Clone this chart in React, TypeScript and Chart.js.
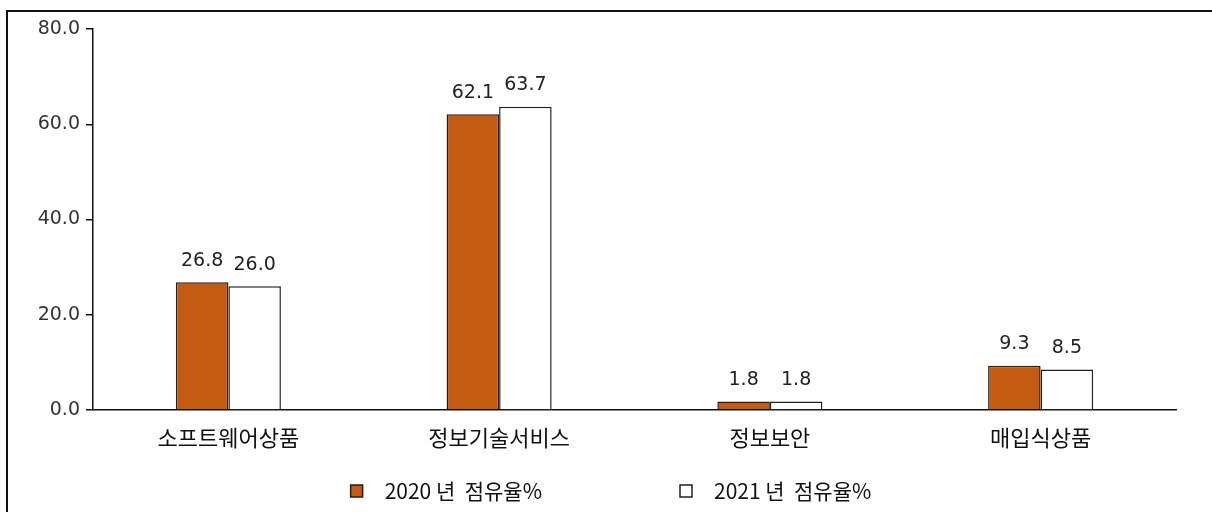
import React, { useEffect, useRef } from "react";
import { Chart, registerables } from "chart.js";

Chart.register(...registerables);

const categories = ["소프트웨어상품", "정보기술서비스", "정보보안", "매입식상품"];
const series2020 = [26.8, 62.1, 1.8, 9.3];
const series2021 = [26.0, 63.7, 1.8, 8.5];
const seriesLabels = ["2020 년  점유율%", "2021 년  점유율%"];
const yTickValues = [0, 20, 40, 60, 80];

const ORANGE = "#C55A11";
const NUM_FONT = '"DejaVu Sans", "Verdana", sans-serif';
const KR_FONT = '"Noto Sans CJK KR", "Noto Sans", sans-serif';

const valueLabelPlugin = {
  id: "valueLabels",
  afterDatasetsDraw(chart: any) {
    const ctx = chart.ctx;
    ctx.save();
    ctx.font = `19px ${NUM_FONT}`;
    ctx.fillStyle = "#222";
    ctx.textAlign = "center";
    ctx.textBaseline = "bottom";
    chart.data.datasets.forEach((ds: any, di: number) => {
      const meta = chart.getDatasetMeta(di);
      meta.data.forEach((el: any, i: number) => {
        const v = ds.data[i];
        ctx.fillText(Number(v).toFixed(1), el.x, el.y - 12);
      });
    });
    ctx.restore();
  },
};

const customLegendPlugin = {
  id: "customLegend",
  afterDraw(chart: any) {
    const ctx = chart.ctx;
    const box = 12;
    const gapText = 22;
    const gapItem = 138;
    ctx.save();
    ctx.font = `21px ${KR_FONT}`;
    const items = chart.data.datasets.map((ds: any) => ({
      text: ds.label,
      fill: ds.backgroundColor,
      stroke: ds.borderColor,
      w: ctx.measureText(ds.label).width,
    }));
    const total =
      items.reduce((s: number, it: any) => s + box + gapText + it.w, 0) +
      gapItem * (items.length - 1);
    let x = chart.width / 2 - total / 2 + 5;
    const yc = 491;
    items.forEach((it: any) => {
      ctx.fillStyle = it.fill;
      ctx.fillRect(x, yc - box / 2, box, box);
      ctx.lineWidth = 1.5;
      ctx.strokeStyle = it.stroke;
      ctx.strokeRect(x, yc - box / 2, box, box);
      ctx.fillStyle = "#111";
      ctx.textAlign = "left";
      ctx.textBaseline = "middle";
      ctx.fillText(it.text, x + box + gapText, yc);
      x += box + gapText + it.w + gapItem;
    });
    ctx.restore();
  },
};

export default function App() {
  const canvasRef = useRef<HTMLCanvasElement | null>(null);

  useEffect(() => {
    if (!canvasRef.current) return;
    const chart = new Chart(canvasRef.current, {
      type: "bar",
      data: {
        labels: categories,
        datasets: [
          {
            label: seriesLabels[0],
            data: series2020,
            backgroundColor: ORANGE,
            borderColor: "#2a1d14",
            borderWidth: 1.5,
            categoryPercentage: 0.388,
            barPercentage: 1.0,
          },
          {
            label: seriesLabels[1],
            data: series2021,
            backgroundColor: "#ffffff",
            borderColor: "#222",
            borderWidth: 1.5,
            categoryPercentage: 0.388,
            barPercentage: 1.0,
          },
        ],
      },
      options: {
        animation: false,
        responsive: false,
        maintainAspectRatio: false,
        layout: { padding: { top: 29, right: 36, bottom: 0, left: 0 } },
        plugins: {
          legend: { display: false },
          tooltip: { enabled: false },
        },
        scales: {
          x: {
            grid: { display: false, drawTicks: false },
            border: { display: true, color: "#111", width: 1.5 },
            ticks: {
              color: "#111",
              font: { family: KR_FONT, size: 22 },
              padding: 14,
            },
            afterFit: (scale: any) => {
              scale.height = 102;
            },
          },
          y: {
            min: 0,
            max: 80,
            afterBuildTicks: (scale: any) => {
              scale.ticks = yTickValues.map((v) => ({ value: v }));
            },
            grid: {
              display: true,
              drawOnChartArea: false,
              drawTicks: true,
              tickLength: 7,
              color: "#111",
              lineWidth: 1.5,
            },
            border: { display: true, color: "#111", width: 1.5 },
            ticks: {
              color: "#333",
              font: { family: NUM_FONT, size: 19 },
              padding: 6,
              callback: (v: any) => Number(v).toFixed(1),
            },
            afterFit: (scale: any) => {
              scale.width = 93;
            },
          },
        },
      },
      plugins: [valueLabelPlugin, customLegendPlugin],
    });
    return () => chart.destroy();
  }, []);

  return (
    <div
      style={{
        position: "fixed",
        left: 0,
        top: 0,
        width: 1212,
        height: 512,
        background: "#fff",
      }}
    >
      <canvas
        ref={canvasRef}
        width={1212}
        height={512}
        style={{ position: "absolute", left: 0, top: 0, width: 1212, height: 512 }}
      />
      <div
        style={{
          position: "absolute",
          left: 6,
          top: 10,
          width: 1206,
          height: 502,
          borderTop: "2px solid #111",
          borderLeft: "2px solid #111",
          boxSizing: "border-box",
          pointerEvents: "none",
        }}
      />
    </div>
  );
}
